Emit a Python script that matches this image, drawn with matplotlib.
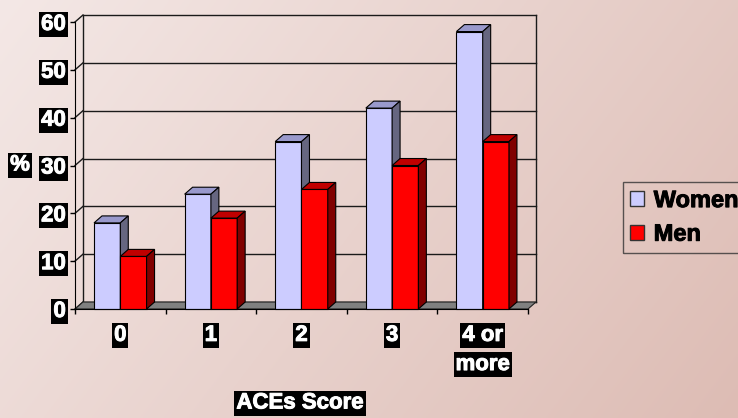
import numpy as np
import matplotlib.pyplot as plt
import matplotlib.patheffects as pe
from matplotlib.patches import Polygon, Patch

categories = ['0', '1', '2', '3', '4 or\nmore']
women = [18, 24, 35, 42, 58]
men = [11, 19, 25, 30, 35]
yticks = [0, 10, 20, 30, 40, 50, 60]

plt.rcParams['font.family'] = ['Liberation Sans', 'DejaVu Sans']
plt.rcParams['font.weight'] = 'bold'

fig = plt.figure(figsize=(7.38, 4.18), dpi=100)

# pink gradient backdrop, darker towards the lower right
bg = fig.add_axes([0, 0, 1, 1], zorder=-10)
yy, xx = np.mgrid[0:1:200j, 0:1:300j]
t = 0.7 * xx + 0.3 * yy
c0 = np.array([244, 232, 230]) / 255
c1 = np.array([221, 188, 180]) / 255
img = c0 + t[..., None] * (c1 - c0)
bg.imshow(img, aspect='auto', extent=[0, 1, 0, 1], origin='upper')
bg.axis('off')

ax = fig.add_axes([75 / 738, 1 - 309 / 418, 453 / 738, 287 / 418])
ax.set_xlim(-0.5, 4.5)
ax.set_ylim(0, 60)
ax.patch.set_visible(False)
ax.spines['top'].set_visible(False)
ax.spines['right'].set_visible(False)
ax.spines['left'].set_zorder(6)
ax.spines['bottom'].set_zorder(6)

# depth offset of the fake 3d box (data units)
dx, dy = 0.088, 1.46
x0, x1 = -0.5, 4.5

# back wall, left wall and gridlines
for v in yticks:
    ax.plot([x0 + dx, x1 + dx], [v + dy, v + dy], color='#1a1a1a', lw=1, zorder=1, clip_on=False)
    ax.plot([x0, x0 + dx], [v, v + dy], color='#1a1a1a', lw=1, zorder=1, clip_on=False)
for xe in [x0 + dx, x1 + dx]:
    ax.plot([xe, xe], [dy, 60 + dy], color='#1a1a1a', lw=1, zorder=1, clip_on=False)

# floor
floor = Polygon([(x0, 0), (x1, 0), (x1 + dx, dy), (x0 + dx, dy)], closed=True,
                facecolor='#808080', edgecolor='#222222', lw=0.8, zorder=2, clip_on=False)
ax.add_patch(floor)


def bar3d(xl, w, h, front, top, side):
    faces = [
        [(xl, 0), (xl + w, 0), (xl + w, h), (xl, h)],
        [(xl, h), (xl + w, h), (xl + w + dx, h + dy), (xl + dx, h + dy)],
        [(xl + w, 0), (xl + w + dx, dy), (xl + w + dx, h + dy), (xl + w, h)],
    ]
    for pts, col in zip(faces, [front, top, side]):
        ax.add_patch(Polygon(pts, closed=True, facecolor=col, edgecolor='black',
                             lw=0.8, zorder=3, clip_on=False))


bw = 0.29
for i in range(len(categories)):
    bar3d(i - bw, bw, women[i], '#CCCCFF', '#9999CC', '#666680')
    bar3d(i, bw, men[i], '#FF0000', '#C00000', '#800000')

box = dict(facecolor='black', edgecolor='none', pad=1.5)
heavy_w = [pe.withStroke(linewidth=0.7, foreground='white')]
heavy_k = [pe.withStroke(linewidth=0.7, foreground='black')]

# y axis
ax.set_yticks(yticks)
ax.tick_params(axis='y', direction='out', length=3.6, width=1, pad=3,
               labelsize=16, labelcolor='white')
for lab in ax.get_yticklabels():
    lab.set_fontweight('bold')
    lab.set_bbox(box)
    lab.set_path_effects(heavy_w)

# x axis: ticks between categories, labels written line by line
ax.set_xticks(np.arange(-0.5, 5, 1))
ax.set_xticklabels([])
ax.tick_params(axis='x', direction='out', length=3.6, width=1)
for i, lab in enumerate(categories):
    for j, line in enumerate(lab.split('\n')):
        ax.annotate(line, xy=(i, 0), xytext=(0, -19 - j * 21), textcoords='offset points',
                    ha='center', va='center', color='white', fontsize=16,
                    fontweight='bold', bbox=box, annotation_clip=False,
                    path_effects=heavy_w)

fig.text(20 / 738, 1 - 165 / 418, '%', ha='center', va='center', color='white',
         fontsize=16, fontweight='bold', bbox=box, path_effects=heavy_w)
fig.text(300 / 738, 1 - 403 / 418, 'ACEs Score', ha='center', va='center', color='white',
         fontsize=16, fontweight='bold', bbox=box, path_effects=heavy_w)

handles = [Patch(facecolor='#CCCCFF', edgecolor='#333333', label='Women'),
           Patch(facecolor='#FF0000', edgecolor='#333333', label='Men')]
leg = fig.legend(handles=handles, loc='upper left', bbox_to_anchor=(623 / 738, 1 - 182 / 418),
                 frameon=True, fancybox=False, edgecolor='#333333', facecolor='none',
                 fontsize=17, handlelength=0.6, handleheight=0.6, handletextpad=0.4,
                 labelspacing=0.45, borderpad=0.3, borderaxespad=0)
leg.get_frame().set_linewidth(1)
for txt in leg.get_texts():
    txt.set_fontweight('bold')
    txt.set_path_effects(heavy_k)

fig.savefig('out.png', dpi=100)
